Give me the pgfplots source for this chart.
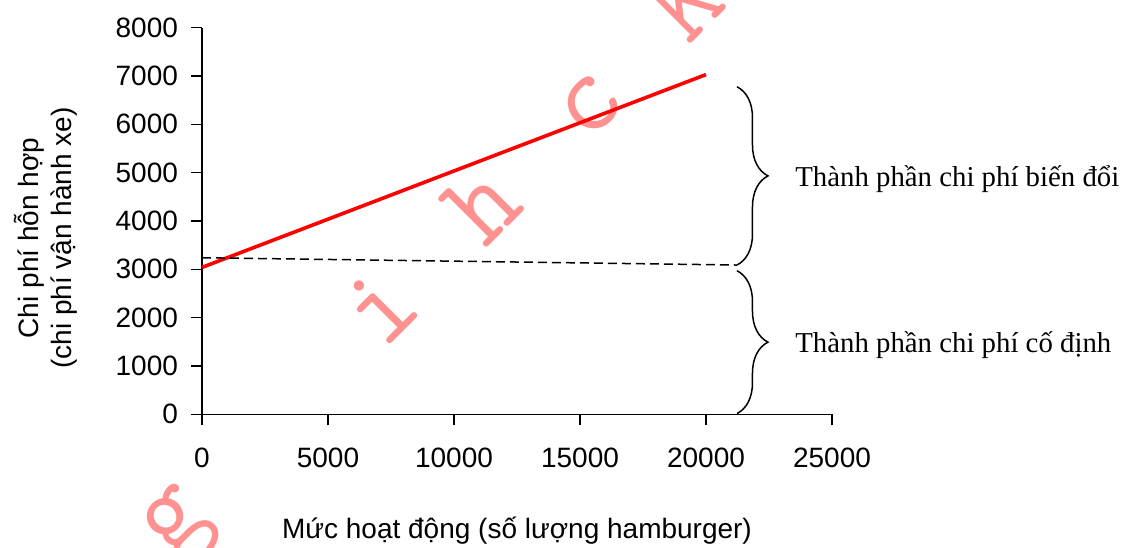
\documentclass[border=0pt]{standalone}
\usepackage{fontspec}
\setmainfont{Liberation Sans}
\newfontfamily\serifface{Liberation Serif}
\usepackage{pgfplots}
\pgfplotsset{compat=1.18}
\usetikzlibrary{decorations.pathreplacing}

\definecolor{wmark}{RGB}{255,145,145}
\definecolor{costline}{RGB}{255,0,0}

\begin{document}
\begin{tikzpicture}
% page frame (axis lower-left corner sits at the origin)
\useasboundingbox (-101pt,-66.35pt) rectangle (462pt,207.15pt);
\clip (-101pt,-66.35pt) rectangle (462pt,207.15pt);

% background watermark letters
\begin{scope}[every node/.style={anchor=base, inner sep=0pt, rotate=45,
    text=wmark, font=\ttfamily\fontsize{57}{60}\selectfont}]
  \node at (-6pt,-61.35pt) {g};
  \node at (101pt,41.65pt) {i};
  \node at (152.25pt,92.9pt) {h};
  \node at (203pt,145.15pt) {c};
  \node at (253.5pt,194.15pt) {K};
\end{scope}

\begin{axis}[
  scale only axis,
  width=315pt, height=193.3pt,
  xmin=0, xmax=25000, ymin=0, ymax=8000,
  axis x line*=bottom, axis y line*=left,
  axis line style={-, line width=0.75pt},
  tick style={black, line width=0.75pt},
  tick align=outside, major tick length=5.5pt,
  xtick={0,5000,...,25000},
  ytick={0,1000,...,8000},
  scaled x ticks=false, scaled y ticks=false,
  /pgf/number format/1000 sep={},
  /pgf/number format/assume math mode=true,
  ticklabel style={font=\fontsize{14}{16}\selectfont},
  xticklabel style={yshift=-8pt},
  yticklabel style={xshift=-3pt},
  label style={font=\fontsize{14}{16.5}\selectfont},
  xlabel={Mức hoạt động (số lượng hamburger)},
  xlabel style={at={(axis description cs:0.5,-0.32)}, anchor=base},
  ylabel={Chi phí hỗn hợp\\(chi phí vận hành xe)},
  ylabel style={align=center, at={(axis description cs:-0.2476,0.456)}, anchor=center},
  clip=false,
]
% mixed cost line
\addplot[costline, line width=1.8pt] coordinates {(0,3040) (20000,7030)};
% boundary between fixed and variable parts
\addplot[black, line width=0.75pt, dash pattern=on 4.5pt off 2.5pt]
  coordinates {(0,3240) (21230,3089)};

% braces for the two components
\draw[decorate, decoration={brace, amplitude=15.5pt}, line width=0.75pt]
  (axis cs:21230,6778) -- (axis cs:21230,3089);
\draw[decorate, decoration={brace, amplitude=15.5pt}, line width=0.75pt]
  (axis cs:21230,2971) -- (axis cs:21230,15);

\node[anchor=base west, inner sep=0pt, font=\serifface\fontsize{14.4}{17}\selectfont]
  at (axis cs:23530,4709) {Thành phần chi phí biến đổi};
\node[anchor=base west, inner sep=0pt, font=\serifface\fontsize{14.4}{17}\selectfont]
  at (axis cs:23530,1275) {Thành phần chi phí cố định};
\end{axis}
\end{tikzpicture}
\end{document}
